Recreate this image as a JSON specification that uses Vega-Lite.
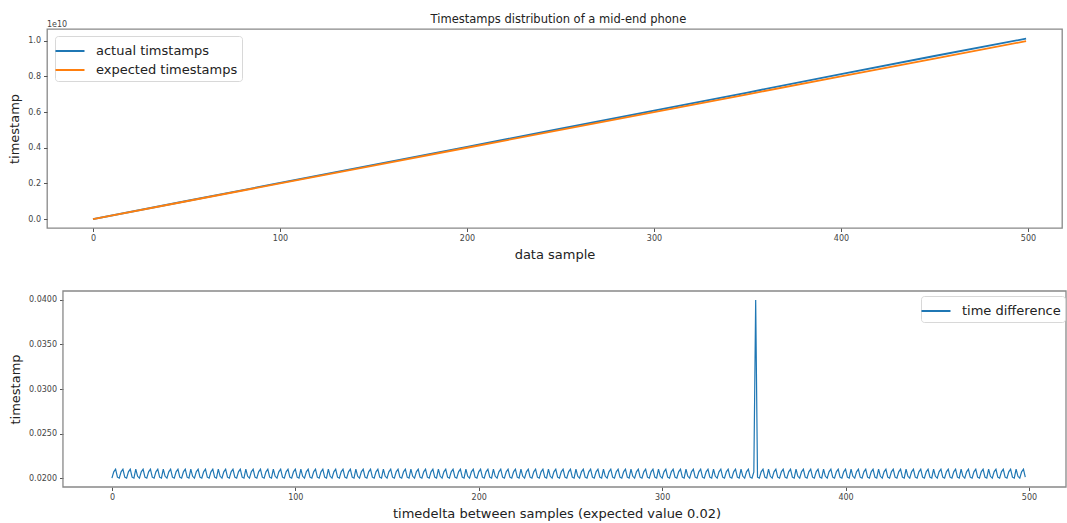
{
  "$schema": "https://vega.github.io/schema/vega-lite/v6.json",
  "background": "white",
  "padding": {"left": 8, "top": 13, "right": 0, "bottom": 0},
  "align": "none",
  "bounds": "full",
  "spacing": 27,
  "title": {"text": "Timestamps distribution of a mid-end phone", "anchor": "middle", "fontSize": 11.5, "fontWeight": "normal", "color": "#222", "offset": -5, "dx": 21},
  "resolve": {"scale": {"color": "independent"}, "legend": {"color": "independent"}},
  "config": {
    "font": "DejaVu Sans",
    "view": {"stroke": "#888", "strokeWidth": 1.3},
    "axis": {"grid": false, "domain": false, "tickColor": "#555", "tickSize": 3.5, "labelFontSize": 8, "labelColor": "#444", "labelPadding": 3, "labelOverlap": false, "titleFontWeight": "normal", "titleFontSize": 13, "titleColor": "#222"},
    "legend": {"title": null, "symbolType": "M-1.45,0H1.45", "symbolSize": 400, "symbolStrokeWidth": 2, "symbolOffset": 0, "labelFontSize": 13, "labelColor": "#222", "labelOffset": 15, "padding": 4, "rowPadding": 1, "strokeColor": "#d8d8d8", "fillColor": "white", "cornerRadius": 3}
  },
  "datasets": {
    "ts": [
      {"i": 0, "series": "actual timstamps", "t": 0},
      {"i": 50, "series": "actual timstamps", "t": 0.1014},
      {"i": 100, "series": "actual timstamps", "t": 0.2028},
      {"i": 150, "series": "actual timstamps", "t": 0.3042},
      {"i": 200, "series": "actual timstamps", "t": 0.4056},
      {"i": 250, "series": "actual timstamps", "t": 0.507},
      {"i": 300, "series": "actual timstamps", "t": 0.6084},
      {"i": 350, "series": "actual timstamps", "t": 0.7098},
      {"i": 400, "series": "actual timstamps", "t": 0.8132},
      {"i": 450, "series": "actual timstamps", "t": 0.9146},
      {"i": 499, "series": "actual timstamps", "t": 1.012},
      {"i": 0, "series": "expected timestamps", "t": 0},
      {"i": 50, "series": "expected timestamps", "t": 0.1},
      {"i": 100, "series": "expected timestamps", "t": 0.2},
      {"i": 150, "series": "expected timestamps", "t": 0.3},
      {"i": 200, "series": "expected timestamps", "t": 0.4},
      {"i": 250, "series": "expected timestamps", "t": 0.5},
      {"i": 300, "series": "expected timestamps", "t": 0.6},
      {"i": 350, "series": "expected timestamps", "t": 0.7},
      {"i": 400, "series": "expected timestamps", "t": 0.8},
      {"i": 450, "series": "expected timestamps", "t": 0.9},
      {"i": 499, "series": "expected timestamps", "t": 0.998}
    ],
    "frame": [
      {"x0": -26.7, "x1": 520.2, "y0": 0.019, "y1": 0.041}
    ],
    "diff": [
      {"i":0,"d":0.02},{"i":1,"d":0.0207},{"i":2,"d":0.021},{"i":3,"d":0.0201},{"i":4,"d":0.02},{"i":5,"d":0.0207},{"i":6,"d":0.021},{"i":7,"d":0.0201},{"i":8,"d":0.02},{"i":9,"d":0.0207},{"i":10,"d":0.021},{"i":11,"d":0.0201},{"i":12,"d":0.02},{"i":13,"d":0.021},{"i":14,"d":0.0202},
      {"i":15,"d":0.02},{"i":16,"d":0.0207},{"i":17,"d":0.021},{"i":18,"d":0.0201},{"i":19,"d":0.02},{"i":20,"d":0.0207},{"i":21,"d":0.021},{"i":22,"d":0.0201},{"i":23,"d":0.02},{"i":24,"d":0.0207},{"i":25,"d":0.021},{"i":26,"d":0.0201},{"i":27,"d":0.02},{"i":28,"d":0.021},{"i":29,"d":0.0202},
      {"i":30,"d":0.02},{"i":31,"d":0.0207},{"i":32,"d":0.021},{"i":33,"d":0.0201},{"i":34,"d":0.02},{"i":35,"d":0.0207},{"i":36,"d":0.021},{"i":37,"d":0.0201},{"i":38,"d":0.02},{"i":39,"d":0.0207},{"i":40,"d":0.021},{"i":41,"d":0.0201},{"i":42,"d":0.02},{"i":43,"d":0.021},{"i":44,"d":0.0202},
      {"i":45,"d":0.02},{"i":46,"d":0.0207},{"i":47,"d":0.021},{"i":48,"d":0.0201},{"i":49,"d":0.02},{"i":50,"d":0.0207},{"i":51,"d":0.021},{"i":52,"d":0.0201},{"i":53,"d":0.02},{"i":54,"d":0.0207},{"i":55,"d":0.021},{"i":56,"d":0.0201},{"i":57,"d":0.02},{"i":58,"d":0.021},{"i":59,"d":0.0202},
      {"i":60,"d":0.02},{"i":61,"d":0.0207},{"i":62,"d":0.021},{"i":63,"d":0.0201},{"i":64,"d":0.02},{"i":65,"d":0.0207},{"i":66,"d":0.021},{"i":67,"d":0.0201},{"i":68,"d":0.02},{"i":69,"d":0.0207},{"i":70,"d":0.021},{"i":71,"d":0.0201},{"i":72,"d":0.02},{"i":73,"d":0.021},{"i":74,"d":0.0202},
      {"i":75,"d":0.02},{"i":76,"d":0.0207},{"i":77,"d":0.021},{"i":78,"d":0.0201},{"i":79,"d":0.02},{"i":80,"d":0.0207},{"i":81,"d":0.021},{"i":82,"d":0.0201},{"i":83,"d":0.02},{"i":84,"d":0.0207},{"i":85,"d":0.021},{"i":86,"d":0.0201},{"i":87,"d":0.02},{"i":88,"d":0.021},{"i":89,"d":0.0202},
      {"i":90,"d":0.02},{"i":91,"d":0.0207},{"i":92,"d":0.021},{"i":93,"d":0.0201},{"i":94,"d":0.02},{"i":95,"d":0.0207},{"i":96,"d":0.021},{"i":97,"d":0.0201},{"i":98,"d":0.02},{"i":99,"d":0.0207},{"i":100,"d":0.021},{"i":101,"d":0.0201},{"i":102,"d":0.02},{"i":103,"d":0.021},{"i":104,"d":0.0202},
      {"i":105,"d":0.02},{"i":106,"d":0.0207},{"i":107,"d":0.021},{"i":108,"d":0.0201},{"i":109,"d":0.02},{"i":110,"d":0.0207},{"i":111,"d":0.021},{"i":112,"d":0.0201},{"i":113,"d":0.02},{"i":114,"d":0.0207},{"i":115,"d":0.021},{"i":116,"d":0.0201},{"i":117,"d":0.02},{"i":118,"d":0.021},{"i":119,"d":0.0202},
      {"i":120,"d":0.02},{"i":121,"d":0.0207},{"i":122,"d":0.021},{"i":123,"d":0.0201},{"i":124,"d":0.02},{"i":125,"d":0.0207},{"i":126,"d":0.021},{"i":127,"d":0.0201},{"i":128,"d":0.02},{"i":129,"d":0.0207},{"i":130,"d":0.021},{"i":131,"d":0.0201},{"i":132,"d":0.02},{"i":133,"d":0.021},{"i":134,"d":0.0202},
      {"i":135,"d":0.02},{"i":136,"d":0.0207},{"i":137,"d":0.021},{"i":138,"d":0.0201},{"i":139,"d":0.02},{"i":140,"d":0.0207},{"i":141,"d":0.021},{"i":142,"d":0.0201},{"i":143,"d":0.02},{"i":144,"d":0.0207},{"i":145,"d":0.021},{"i":146,"d":0.0201},{"i":147,"d":0.02},{"i":148,"d":0.021},{"i":149,"d":0.0202},
      {"i":150,"d":0.02},{"i":151,"d":0.0207},{"i":152,"d":0.021},{"i":153,"d":0.0201},{"i":154,"d":0.02},{"i":155,"d":0.0207},{"i":156,"d":0.021},{"i":157,"d":0.0201},{"i":158,"d":0.02},{"i":159,"d":0.0207},{"i":160,"d":0.021},{"i":161,"d":0.0201},{"i":162,"d":0.02},{"i":163,"d":0.021},{"i":164,"d":0.0202},
      {"i":165,"d":0.02},{"i":166,"d":0.0207},{"i":167,"d":0.021},{"i":168,"d":0.0201},{"i":169,"d":0.02},{"i":170,"d":0.0207},{"i":171,"d":0.021},{"i":172,"d":0.0201},{"i":173,"d":0.02},{"i":174,"d":0.0207},{"i":175,"d":0.021},{"i":176,"d":0.0201},{"i":177,"d":0.02},{"i":178,"d":0.021},{"i":179,"d":0.0202},
      {"i":180,"d":0.02},{"i":181,"d":0.0207},{"i":182,"d":0.021},{"i":183,"d":0.0201},{"i":184,"d":0.02},{"i":185,"d":0.0207},{"i":186,"d":0.021},{"i":187,"d":0.0201},{"i":188,"d":0.02},{"i":189,"d":0.0207},{"i":190,"d":0.021},{"i":191,"d":0.0201},{"i":192,"d":0.02},{"i":193,"d":0.021},{"i":194,"d":0.0202},
      {"i":195,"d":0.02},{"i":196,"d":0.0207},{"i":197,"d":0.021},{"i":198,"d":0.0201},{"i":199,"d":0.02},{"i":200,"d":0.0207},{"i":201,"d":0.021},{"i":202,"d":0.0201},{"i":203,"d":0.02},{"i":204,"d":0.0207},{"i":205,"d":0.021},{"i":206,"d":0.0201},{"i":207,"d":0.02},{"i":208,"d":0.021},{"i":209,"d":0.0202},
      {"i":210,"d":0.02},{"i":211,"d":0.0207},{"i":212,"d":0.021},{"i":213,"d":0.0201},{"i":214,"d":0.02},{"i":215,"d":0.0207},{"i":216,"d":0.021},{"i":217,"d":0.0201},{"i":218,"d":0.02},{"i":219,"d":0.0207},{"i":220,"d":0.021},{"i":221,"d":0.0201},{"i":222,"d":0.02},{"i":223,"d":0.021},{"i":224,"d":0.0202},
      {"i":225,"d":0.02},{"i":226,"d":0.0207},{"i":227,"d":0.021},{"i":228,"d":0.0201},{"i":229,"d":0.02},{"i":230,"d":0.0207},{"i":231,"d":0.021},{"i":232,"d":0.0201},{"i":233,"d":0.02},{"i":234,"d":0.0207},{"i":235,"d":0.021},{"i":236,"d":0.0201},{"i":237,"d":0.02},{"i":238,"d":0.021},{"i":239,"d":0.0202},
      {"i":240,"d":0.02},{"i":241,"d":0.0207},{"i":242,"d":0.021},{"i":243,"d":0.0201},{"i":244,"d":0.02},{"i":245,"d":0.0207},{"i":246,"d":0.021},{"i":247,"d":0.0201},{"i":248,"d":0.02},{"i":249,"d":0.0207},{"i":250,"d":0.021},{"i":251,"d":0.0201},{"i":252,"d":0.02},{"i":253,"d":0.021},{"i":254,"d":0.0202},
      {"i":255,"d":0.02},{"i":256,"d":0.0207},{"i":257,"d":0.021},{"i":258,"d":0.0201},{"i":259,"d":0.02},{"i":260,"d":0.0207},{"i":261,"d":0.021},{"i":262,"d":0.0201},{"i":263,"d":0.02},{"i":264,"d":0.0207},{"i":265,"d":0.021},{"i":266,"d":0.0201},{"i":267,"d":0.02},{"i":268,"d":0.021},{"i":269,"d":0.0202},
      {"i":270,"d":0.02},{"i":271,"d":0.0207},{"i":272,"d":0.021},{"i":273,"d":0.0201},{"i":274,"d":0.02},{"i":275,"d":0.0207},{"i":276,"d":0.021},{"i":277,"d":0.0201},{"i":278,"d":0.02},{"i":279,"d":0.0207},{"i":280,"d":0.021},{"i":281,"d":0.0201},{"i":282,"d":0.02},{"i":283,"d":0.021},{"i":284,"d":0.0202},
      {"i":285,"d":0.02},{"i":286,"d":0.0207},{"i":287,"d":0.021},{"i":288,"d":0.0201},{"i":289,"d":0.02},{"i":290,"d":0.0207},{"i":291,"d":0.021},{"i":292,"d":0.0201},{"i":293,"d":0.02},{"i":294,"d":0.0207},{"i":295,"d":0.021},{"i":296,"d":0.0201},{"i":297,"d":0.02},{"i":298,"d":0.021},{"i":299,"d":0.0202},
      {"i":300,"d":0.02},{"i":301,"d":0.0207},{"i":302,"d":0.021},{"i":303,"d":0.0201},{"i":304,"d":0.02},{"i":305,"d":0.0207},{"i":306,"d":0.021},{"i":307,"d":0.0201},{"i":308,"d":0.02},{"i":309,"d":0.0207},{"i":310,"d":0.021},{"i":311,"d":0.0201},{"i":312,"d":0.02},{"i":313,"d":0.021},{"i":314,"d":0.0202},
      {"i":315,"d":0.02},{"i":316,"d":0.0207},{"i":317,"d":0.021},{"i":318,"d":0.0201},{"i":319,"d":0.02},{"i":320,"d":0.0207},{"i":321,"d":0.021},{"i":322,"d":0.0201},{"i":323,"d":0.02},{"i":324,"d":0.0207},{"i":325,"d":0.021},{"i":326,"d":0.0201},{"i":327,"d":0.02},{"i":328,"d":0.021},{"i":329,"d":0.0202},
      {"i":330,"d":0.02},{"i":331,"d":0.0207},{"i":332,"d":0.021},{"i":333,"d":0.0201},{"i":334,"d":0.02},{"i":335,"d":0.0207},{"i":336,"d":0.021},{"i":337,"d":0.0201},{"i":338,"d":0.02},{"i":339,"d":0.0207},{"i":340,"d":0.021},{"i":341,"d":0.0201},{"i":342,"d":0.02},{"i":343,"d":0.021},{"i":344,"d":0.0202},
      {"i":345,"d":0.02},{"i":346,"d":0.0207},{"i":347,"d":0.021},{"i":348,"d":0.0201},{"i":349,"d":0.02},{"i":350,"d":0.0207},{"i":351,"d":0.04},{"i":352,"d":0.0201},{"i":353,"d":0.02},{"i":354,"d":0.0207},{"i":355,"d":0.021},{"i":356,"d":0.0201},{"i":357,"d":0.02},{"i":358,"d":0.021},{"i":359,"d":0.0202},
      {"i":360,"d":0.02},{"i":361,"d":0.0207},{"i":362,"d":0.021},{"i":363,"d":0.0201},{"i":364,"d":0.02},{"i":365,"d":0.0207},{"i":366,"d":0.021},{"i":367,"d":0.0201},{"i":368,"d":0.02},{"i":369,"d":0.0207},{"i":370,"d":0.021},{"i":371,"d":0.0201},{"i":372,"d":0.02},{"i":373,"d":0.021},{"i":374,"d":0.0202},
      {"i":375,"d":0.02},{"i":376,"d":0.0207},{"i":377,"d":0.021},{"i":378,"d":0.0201},{"i":379,"d":0.02},{"i":380,"d":0.0207},{"i":381,"d":0.021},{"i":382,"d":0.0201},{"i":383,"d":0.02},{"i":384,"d":0.0207},{"i":385,"d":0.021},{"i":386,"d":0.0201},{"i":387,"d":0.02},{"i":388,"d":0.021},{"i":389,"d":0.0202},
      {"i":390,"d":0.02},{"i":391,"d":0.0207},{"i":392,"d":0.021},{"i":393,"d":0.0201},{"i":394,"d":0.02},{"i":395,"d":0.0207},{"i":396,"d":0.021},{"i":397,"d":0.0201},{"i":398,"d":0.02},{"i":399,"d":0.0207},{"i":400,"d":0.021},{"i":401,"d":0.0201},{"i":402,"d":0.02},{"i":403,"d":0.021},{"i":404,"d":0.0202},
      {"i":405,"d":0.02},{"i":406,"d":0.0207},{"i":407,"d":0.021},{"i":408,"d":0.0201},{"i":409,"d":0.02},{"i":410,"d":0.0207},{"i":411,"d":0.021},{"i":412,"d":0.0201},{"i":413,"d":0.02},{"i":414,"d":0.0207},{"i":415,"d":0.021},{"i":416,"d":0.0201},{"i":417,"d":0.02},{"i":418,"d":0.021},{"i":419,"d":0.0202},
      {"i":420,"d":0.02},{"i":421,"d":0.0207},{"i":422,"d":0.021},{"i":423,"d":0.0201},{"i":424,"d":0.02},{"i":425,"d":0.0207},{"i":426,"d":0.021},{"i":427,"d":0.0201},{"i":428,"d":0.02},{"i":429,"d":0.0207},{"i":430,"d":0.021},{"i":431,"d":0.0201},{"i":432,"d":0.02},{"i":433,"d":0.021},{"i":434,"d":0.0202},
      {"i":435,"d":0.02},{"i":436,"d":0.0207},{"i":437,"d":0.021},{"i":438,"d":0.0201},{"i":439,"d":0.02},{"i":440,"d":0.0207},{"i":441,"d":0.021},{"i":442,"d":0.0201},{"i":443,"d":0.02},{"i":444,"d":0.0207},{"i":445,"d":0.021},{"i":446,"d":0.0201},{"i":447,"d":0.02},{"i":448,"d":0.021},{"i":449,"d":0.0202},
      {"i":450,"d":0.02},{"i":451,"d":0.0207},{"i":452,"d":0.021},{"i":453,"d":0.0201},{"i":454,"d":0.02},{"i":455,"d":0.0207},{"i":456,"d":0.021},{"i":457,"d":0.0201},{"i":458,"d":0.02},{"i":459,"d":0.0207},{"i":460,"d":0.021},{"i":461,"d":0.0201},{"i":462,"d":0.02},{"i":463,"d":0.021},{"i":464,"d":0.0202},
      {"i":465,"d":0.02},{"i":466,"d":0.0207},{"i":467,"d":0.021},{"i":468,"d":0.0201},{"i":469,"d":0.02},{"i":470,"d":0.0207},{"i":471,"d":0.021},{"i":472,"d":0.0201},{"i":473,"d":0.02},{"i":474,"d":0.0207},{"i":475,"d":0.021},{"i":476,"d":0.0201},{"i":477,"d":0.02},{"i":478,"d":0.021},{"i":479,"d":0.0202},
      {"i":480,"d":0.02},{"i":481,"d":0.0207},{"i":482,"d":0.021},{"i":483,"d":0.0201},{"i":484,"d":0.02},{"i":485,"d":0.0207},{"i":486,"d":0.021},{"i":487,"d":0.0201},{"i":488,"d":0.02},{"i":489,"d":0.0207},{"i":490,"d":0.021},{"i":491,"d":0.0201},{"i":492,"d":0.02},{"i":493,"d":0.021},{"i":494,"d":0.0202},
      {"i":495,"d":0.02},{"i":496,"d":0.0207},{"i":497,"d":0.021},{"i":498,"d":0.0201}
    ]
  },
  "vconcat": [
    {
      "width": 1015,
      "height": 199,
      "title": {"text": "1e10", "anchor": "start", "frame": "group", "fontSize": 8, "fontWeight": "normal", "color": "#444", "offset": 0},
      "data": {"name": "ts"},
      "mark": {"type": "line", "strokeWidth": 1.8},
      "encoding": {
        "x": {"field": "i", "type": "quantitative", "scale": {"domain": [-24.6, 518.2], "nice": false, "zero": false},
              "axis": {"values": [0, 100, 200, 300, 400, 500], "title": "data sample", "titlePadding": 6}},
        "y": {"field": "t", "type": "quantitative", "scale": {"domain": [-0.05, 1.066], "nice": false, "zero": false},
              "axis": {"values": [0, 0.2, 0.4, 0.6, 0.8, 1.0], "format": ".1f", "title": "timestamp", "titlePadding": 6}},
        "color": {"field": "series", "type": "nominal", "scale": {"domain": ["actual timstamps", "expected timestamps"], "range": ["#1f77b4", "#ff7f0e"]},
                  "legend": {"orient": "none", "legendX": 8, "legendY": 7}}
      }
    },
    {
      "width": 1019,
      "height": 196,
      "view": {"stroke": null},
      "layer": [
        {
          "data": {"name": "diff"},
          "mark": {"type": "line", "strokeWidth": 1.2, "color": "#1f77b4"},
          "encoding": {
            "x": {"field": "i", "type": "quantitative", "scale": {"domain": [-35.4, 520.2], "nice": false, "zero": false},
                  "axis": {"values": [0, 100, 200, 300, 400, 500], "title": "timedelta between samples (expected value 0.02)", "titlePadding": 6}},
            "y": {"field": "d", "type": "quantitative", "scale": {"domain": [0.019, 0.041], "nice": false, "zero": false},
                  "axis": {"values": [0.02, 0.0225, 0.025, 0.0275, 0.03, 0.0325, 0.035, 0.0375, 0.04], "format": ".4f", "title": "timestamp", "titlePadding": 6, "offset": -16}},
            "color": {"datum": "time difference", "type": "nominal", "scale": {"domain": ["time difference"], "range": ["#1f77b4"]},
                      "legend": {"orient": "none", "legendX": 874, "legendY": 5}}
          }
        },
        {
          "data": {"name": "frame"},
          "mark": {"type": "rect", "fill": null, "fillOpacity": 0, "stroke": "#888", "strokeWidth": 1.3},
          "encoding": {
            "x": {"field": "x0", "type": "quantitative"},
            "x2": {"field": "x1"},
            "y": {"field": "y0", "type": "quantitative"},
            "y2": {"field": "y1"}
          }
        }
      ]
    }
  ]
}
